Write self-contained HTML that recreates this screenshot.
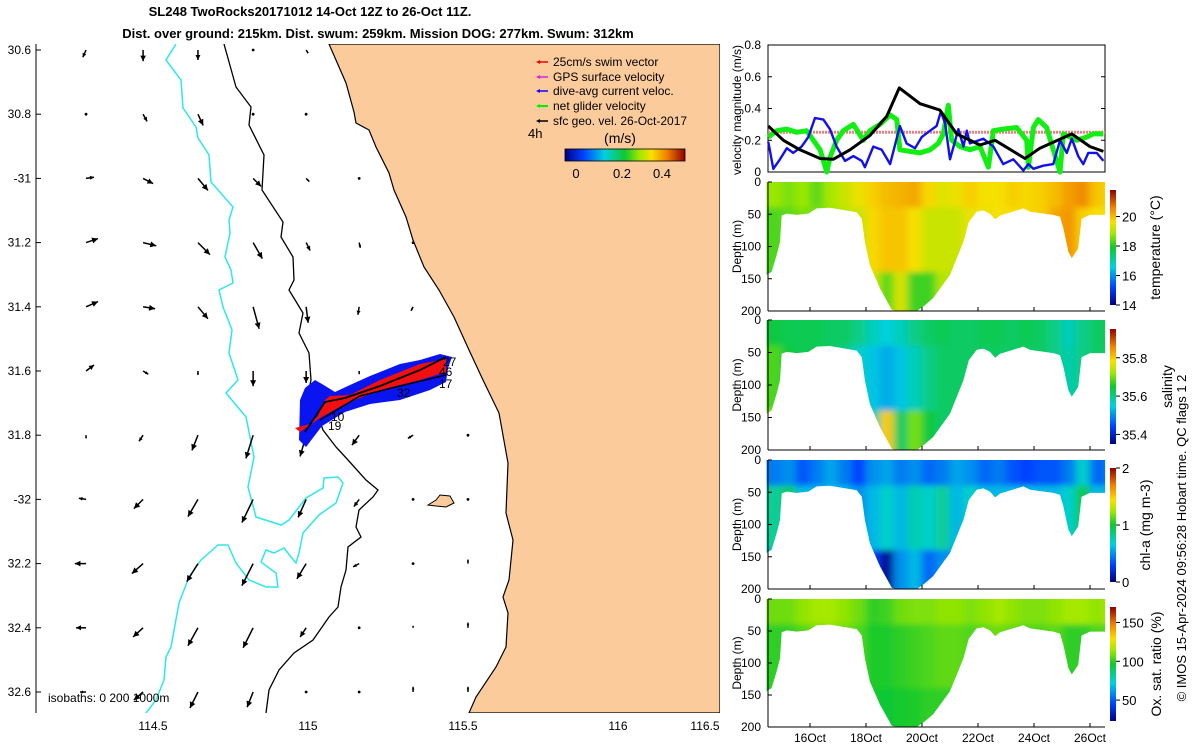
<!DOCTYPE html>
<html><head><meta charset="utf-8">
<style>
html,body{margin:0;padding:0;background:#fff;}
svg{display:block;font-family:"Liberation Sans","DejaVu Sans",sans-serif;}
</style></head>
<body>
<svg id="fig" width="1200" height="750" viewBox="0 0 1200 750" xmlns="http://www.w3.org/2000/svg">
<defs>
<linearGradient id="jetH" x1="0" y1="0" x2="1" y2="0">
<stop offset="0" stop-color="#000080"/><stop offset="0.15" stop-color="#0040ff"/><stop offset="0.33" stop-color="#00d0e0"/><stop offset="0.5" stop-color="#10c830"/><stop offset="0.62" stop-color="#a0e800"/><stop offset="0.72" stop-color="#f8e000"/><stop offset="0.85" stop-color="#f08000"/><stop offset="1" stop-color="#900000"/>
</linearGradient>
<linearGradient id="jetV" x1="0" y1="1" x2="0" y2="0">
<stop offset="0" stop-color="#000080"/><stop offset="0.15" stop-color="#0040ff"/><stop offset="0.33" stop-color="#00d0e0"/><stop offset="0.5" stop-color="#10c830"/><stop offset="0.62" stop-color="#a0e800"/><stop offset="0.72" stop-color="#f8e000"/><stop offset="0.85" stop-color="#f08000"/><stop offset="1" stop-color="#900000"/>
</linearGradient>
<clipPath id="mapClip"><rect x="36" y="44" width="684" height="669"/></clipPath>
<filter id="soft" x="-5%" y="-5%" width="110%" height="110%"><feGaussianBlur stdDeviation="4 3"/></filter>
</defs>

<text x="310" y="16" text-anchor="middle" font-size="13" font-weight="bold">SL248 TwoRocks20171012 14-Oct 12Z to 26-Oct 11Z.</text>
<text x="378" y="38" text-anchor="middle" font-size="13" font-weight="bold">Dist. over ground: 215km. Dist. swum: 259km. Mission DOG: 277km. Swum: 312km</text>

<g id="map" clip-path="url(#mapClip)">
<rect x="36" y="44" width="684" height="669" fill="#fff"/>
<polygon fill="#fbcb9b" stroke="#000" stroke-width="1.2" points="329,44 346,83 354,112 356,123 369,130 376,147 389,173 394,190 406,217 413,240 424,267 439,290 454,317 469,350 483,380 499,413 508,463 506,513 513,540 509,580 503,597 508,613 506,647 496,667 476,697 469,713 720,713 720,44"/>
<polygon fill="#fbcb9b" stroke="#000" stroke-width="1" points="428,505 436,500 440,495 450,496 454,503 446,507 436,506"/>
<polyline fill="none" stroke="#000" stroke-width="1.3" points="224,44 236,87 251,107 249,125 264,155 262,190 283,222 281,237 293,257 294,280 289,290 303,313 299,333 309,353 311,380 309,390 323,430 336,447 348,460 366,480 378,490 373,497 359,510 356,527 361,537 348,547 346,570 341,587 338,607 329,617 313,640 294,653 279,670 269,690 266,713"/>
<polyline fill="none" stroke="#2ee6ee" stroke-width="1.5" points="176,44 166,60 181,80 183,108 196,127 198,138 209,155 211,182 233,207 229,220 230,233 225,257 231,270 233,283 219,290 223,307 232,330 229,353 238,380 226,393 246,417 254,457 248,487 256,517 281,525 289,520 306,498 323,488 324,478 338,477 343,483 336,503 319,515 303,533 299,553 296,563 291,557 284,548 274,553 266,550 261,562 276,573 278,587 266,587 249,580 236,563 228,545 218,545 201,560 189,577 179,603 171,647 166,657 164,680 156,700 143,717"/>
<g id="arrows"></g>
<g>
<polygon fill="#0a14f0" points="300,400 305,388 315,380 322,384 335,392 350,385 370,376 400,364 420,360 440,354 452,357 448,368 446,382 430,390 400,400 370,404 345,412 322,426 306,447 299,440"/>
<polygon fill="#f01010" points="295,428 310,424 318,416 325,400 330,396 350,395 380,380 405,370 420,364 446,359 446,372 420,380 380,390 345,404 320,418 300,432"/>
<polyline fill="none" stroke="#000" stroke-width="1.8" points="305,432 325,402 345,398 380,386 420,370 446,357"/>
<polyline fill="none" stroke="#000" stroke-width="1.5" points="446,375 400,386 360,396 320,420"/>
</g>
<g font-size="12">
<text x="443" y="366">27</text><text x="439" y="376">46</text><text x="439" y="388">17</text>
<text x="397" y="397">32</text><text x="331" y="421">10</text><text x="328" y="430">19</text>
</g>
<text x="48" y="702" font-size="12">isobaths: 0   200  1000m</text>
</g>
<line x1="36" y1="44" x2="36" y2="713" stroke="#000"/>
<g id="mapTicks" font-size="12"></g>

<g font-size="12">
<g><line x1="538" y1="62" x2="548" y2="62" stroke="#e00" stroke-width="1.5"/><polygon points="536,62 540,60 540,64" fill="#e00"/><text x="553" y="66">25cm/s swim vector</text></g>
<g><line x1="538" y1="77" x2="548" y2="77" stroke="#e020e0" stroke-width="1.5"/><polygon points="536,77 540,75 540,79" fill="#e020e0"/><text x="553" y="81">GPS surface velocity</text></g>
<g><line x1="538" y1="91" x2="548" y2="91" stroke="#10f" stroke-width="1.5"/><polygon points="536,91 540,89 540,93" fill="#10f"/><text x="553" y="95">dive-avg current veloc.</text></g>
<g><line x1="538" y1="106" x2="548" y2="106" stroke="#0e0" stroke-width="2"/><polygon points="536,106 540,104 540,108" fill="#0e0"/><text x="553" y="110">net glider velocity</text></g>
<g><line x1="538" y1="121" x2="548" y2="121" stroke="#000" stroke-width="1.5"/><polygon points="536,121 540,119 540,123" fill="#000"/><text x="553" y="125">sfc geo. vel. 26-Oct-2017</text></g>
<text x="528" y="138" font-size="13">4h</text>
<text x="620" y="143" font-size="14" text-anchor="middle">(m/s)</text>
<rect x="565" y="149" width="120" height="12" fill="url(#jetH)" stroke="#000" stroke-width="0.8"/>
<text x="576" y="178" font-size="13" text-anchor="middle">0</text>
<text x="622" y="178" font-size="13" text-anchor="middle">0.2</text>
<text x="662" y="178" font-size="13" text-anchor="middle">0.4</text>
</g>

<g id="vel"></g>
<g id="heat"></g>
<g id="dates" font-size="12"></g>
<text transform="translate(1186,538) rotate(-90)" text-anchor="middle" font-size="13">© IMOS 15-Apr-2024 09:56:28 Hobart time. QC flags 1  2</text>
</svg>
<script>
// ---------- map data ----------
const lonGrid=[114.284,114.468,114.645,114.823,114.994,115.165,115.339,115.516];
const latGrid=[30.6,30.8,31.0,31.2,31.4,31.6,31.8,32.0,32.2,32.4,32.6];
const geoU=[
[-8,0,0,0,5,null,null,null],
[0,10,13,3,0,null,null,null],
[20,25,25,20,8,0,null,null],
[30,33,30,23,10,3,0,null],
[30,30,25,15,5,-3,-5,null],
[20,13,0,0,0,0,null,null],
[0,-10,-15,-18,-15,-18,-13,0],
[-18,-23,-25,-28,-20,-13,0,0],
[-28,-28,-28,-28,-23,-15,3,0],
[-25,-25,-25,-25,-15,0,0,0],
[-15,-23,-20,-15,0,0,0,0]];
const geoV=[
[-18,-28,-25,-3,-8,null,null,null],
[-3,-18,-28,-3,-3,null,null,null],
[3,-13,-30,-20,-8,-3,null,null],
[10,-8,-30,-40,-20,-13,-3,null],
[13,-5,-30,-55,-40,-20,-10,null],
[15,-8,-10,-38,-30,-8,null,null],
[-8,-15,-38,-58,-53,-25,-8,-3],
[3,-23,-43,-58,-45,-18,-3,-3],
[0,-25,-45,-55,-38,-8,3,10],
[0,-23,-45,-50,-23,-3,5,13],
[0,-20,-40,-38,-3,-3,13,13]];
const lonTicks=[114.5,115,115.5,116,116.5];
const lonTickLabels=["114.5","115","115.5","116","116.5"];
const latTicks=[30.6,30.8,31,31.2,31.4,31.6,31.8,32,32.2,32.4,32.6];
const latTickLabels=["30.6","30.8","-31","31.2","31.4","31.6","31.8","-32","32.2","32.4","32.6"];

// ---------- velocity panel data ----------
const velTicks=[0,0.2,0.4,0.6,0.8];
const velTickLabels=["0","0.2","0.4","0.6","0.8"];
const geoDays=[14.51,15.05,15.64,16.36,16.83,17.43,18.14,18.74,19.19,19.93,20.64,21.24,22.07,22.61,23.68,24.21,25.35,26.0,26.48];
const geoSpeed=[0.29,0.2,0.14,0.085,0.08,0.14,0.23,0.35,0.53,0.43,0.39,0.24,0.17,0.2,0.085,0.15,0.24,0.16,0.13];
const diveDays=[14.51,14.69,14.93,15.17,15.40,15.70,15.94,16.18,16.48,16.71,16.95,17.25,17.55,17.85,17.96,18.26,18.56,18.86,19.21,19.45,19.75,19.99,20.29,20.52,20.67,20.82,21.0,21.30,21.48,21.60,21.71,22.19,22.55,22.90,23.26,23.62,23.80,23.98,24.33,24.69,24.93,25.17,25.35,25.58,25.76,25.94,26.24,26.48];
const diveSpeed=[0.19,0.02,0.08,0.15,0.12,0.16,0.22,0.34,0.33,0.27,0.16,0.07,0.1,0.07,0.03,0.16,0.14,0.05,0.29,0.18,0.15,0.22,0.26,0.29,0.38,0.31,0.08,0.27,0.16,0.26,0.18,0.21,0.16,0.05,0.08,0.01,0.05,0.02,0.04,0.05,0.2,0.12,0.21,0.1,0.05,0.12,0.12,0.07];
const netDays=[14.51,14.81,15.17,15.52,15.88,16.12,16.36,16.60,16.71,16.95,17.19,17.55,17.90,18.14,18.50,18.86,19.10,19.21,19.57,19.93,20.29,20.58,20.76,20.94,21.06,21.36,21.71,22.07,22.37,22.55,22.90,23.38,23.74,23.80,23.98,24.15,24.45,24.93,25.05,25.52,25.88,26.12,26.48];
const netSpeed=[0.22,0.26,0.27,0.25,0.26,0.2,0.14,0.0,0.09,0.2,0.26,0.3,0.2,0.26,0.3,0.36,0.33,0.14,0.13,0.12,0.14,0.18,0.24,0.42,0.2,0.16,0.14,0.16,0.03,0.26,0.27,0.28,0.2,0.03,0.28,0.33,0.28,0.0,0.24,0.2,0.22,0.24,0.24];
const swimDays=[14.5,26.54];
const swimSpeed=[0.25,0.25];

// ---------- section data ----------
const dateTicks=[16,18,20,22,24,26];
const dateTickLabels=["16Oct","18Oct","20Oct","22Oct","24Oct","26Oct"];
const depthTicks=[0,50,100,150,200];
const profDays=[14.45,14.63,14.81,14.93,14.99,15.17,15.52,15.94,16.24,16.71,17.67,17.85,17.96,18.14,18.50,18.92,19.10,19.81,20.05,20.40,21.0,21.48,21.67,21.95,22.19,22.43,22.61,22.79,23.62,23.86,24.69,24.93,25.05,25.23,25.35,25.58,25.70,26.0,26.54];
const profDepth=[144,139,113,93,52,49,51,49,41,40,47,57,93,129,165,198,200,200,193,180,144,93,62,46,44,49,58,52,41,46,51,54,72,108,118,103,57,51,51];
const colDays=[14.5,15,15.5,16,16.5,17,17.5,18,18.5,19,19.5,20,20.5,21,21.5,22,22.5,23,23.5,24,24.5,25,25.5,26,26.5];
const layerTop=[0,40,140];
const layerBot=[40,140,200];
const tempTop=[18.8,18.6,18.8,18.4,18.9,19.2,19.5,19.8,20.0,20.1,20.2,19.7,19.4,19.5,19.8,19.6,19.6,19.8,19.7,19.8,20.0,20.3,20.5,19.9,19.7];
const tempMid=[18.3,18.4,18.6,18.6,18.8,19.0,19.2,19.7,19.9,19.9,19.6,19.2,19.2,19.2,19.5,19.5,19.6,19.6,19.7,19.8,20.2,20.4,19.8,19.6,19.6];
const tempDeep=[17.8,17.9,18.0,18.0,18.0,18.5,19.0,19.3,18.4,19.3,18.2,18.2,19.0,19.0,19.0,19.0,19.0,19.0,19.0,19.0,19.0,19.0,19.0,19.0,19.0];
const salTop=[35.64,35.63,35.63,35.63,35.62,35.62,35.60,35.57,35.55,35.57,35.60,35.62,35.63,35.62,35.62,35.63,35.63,35.62,35.63,35.62,35.60,35.57,35.60,35.62,35.63];
const salMid=[35.68,35.64,35.63,35.63,35.62,35.60,35.56,35.54,35.52,35.54,35.57,35.60,35.62,35.62,35.62,35.62,35.62,35.62,35.62,35.62,35.60,35.58,35.60,35.62,35.62];
const salDeep=[35.72,35.70,35.66,35.64,35.63,35.62,35.60,35.58,35.80,35.62,35.70,35.64,35.62,35.62,35.62,35.62,35.62,35.62,35.62,35.62,35.62,35.62,35.62,35.62,35.62];
const chlTop=[0.45,0.5,0.35,0.45,0.55,0.45,0.3,0.5,0.55,0.45,0.5,0.4,0.45,0.55,0.5,0.4,0.45,0.35,0.3,0.35,0.35,0.45,0.7,0.4,0.45];
const chlMid=[0.8,0.9,0.6,0.6,0.6,0.6,0.5,0.6,0.7,0.6,0.75,0.7,0.8,0.6,0.7,0.6,0.6,0.6,0.6,0.6,0.6,0.7,0.95,0.6,0.6];
const chlDeep=[0.5,0.5,0.5,0.5,0.5,0.5,0.4,0.3,0.05,0.5,0.6,0.4,0.5,0.5,0.5,0.5,0.5,0.5,0.5,0.5,0.5,0.5,0.5,0.5,0.5];
const oxTop=[108,108,112,115,115,112,108,100,102,108,110,110,112,112,110,112,115,112,110,110,112,115,115,112,115];
const oxMid=[100,100,105,108,110,108,104,98,98,100,102,104,106,106,104,106,108,106,104,104,106,100,100,104,104];
const oxDeep=[98,98,100,100,100,100,100,97,96,97,98,100,100,100,100,100,100,100,100,100,100,100,100,100,100];

const NS="http://www.w3.org/2000/svg";
function mk(tag,attrs,parent){const e=document.createElementNS(NS,tag);for(const k in attrs)e.setAttribute(k,attrs[k]);parent.appendChild(e);return e;}
function txt(parent,x,y,s,anchor,size,extra){const t=mk('text',{x:x,y:y,'text-anchor':anchor||'start','font-size':size||12},parent);if(extra)t.setAttribute('transform',extra);t.textContent=s;return t;}

// map axes
const lonX=l=>153+(l-114.5)*310;
const latY=l=>50+(l-30.6)*321;
const arrows=document.getElementById('arrows');
const VS=0.4;
for(let r=0;r<latGrid.length;r++){for(let c=0;c<lonGrid.length;c++){
  const u=geoU[r][c],v=geoV[r][c];if(u===null||v===null)continue;
  const x0=lonX(lonGrid[c]),y0=latY(latGrid[r]);
  const x1=x0+u*VS,y1=y0-v*VS;
  const g=mk('g',{},arrows);
  
  
  const len=Math.hypot(x1-x0,y1-y0);
  if(len<2){mk('circle',{cx:x0,cy:y0,r:1.4,fill:'#000'},g);continue;}
  mk('line',{x1:x0,y1:y0,x2:x1,y2:y1,stroke:'#000','stroke-width':1.5},g);
  const ux=(x1-x0)/len,uy=(y1-y0)/len,h=Math.min(6,len*0.5);
  mk('polygon',{points:`${x1},${y1} ${x1-ux*h-uy*h*0.5},${y1-uy*h+ux*h*0.5} ${x1-ux*h+uy*h*0.5},${y1-uy*h-ux*h*0.5}`,fill:'#000'},g);
}}
const mt=document.getElementById('mapTicks');
lonTicks.forEach((l,i)=>{const x=lonX(l);
  const t=txt(mt,Math.min(x,705),730,lonTickLabels[i],'middle',12);
  
  });
latTicks.forEach((l,i)=>{const y=latY(l);
  mk('line',{x1:36,y1:y,x2:41,y2:y,stroke:'#000'},mt);
  const t=txt(mt,31,y+4,latTickLabels[i],'end',12);
  
  });

// right panels
const X0=768,X1=1105;
const dayX=d=>810+(d-16)*28;
const vel=document.getElementById('vel');
const vY=v=>172-v/0.8*127;
mk('rect',{x:X0,y:45,width:X1-X0,height:127,fill:'#fff',stroke:'#000','stroke-width':1},vel);
velTicks.forEach((v,i)=>{const y=vY(v);
  mk('line',{x1:X0,y1:y,x2:X0+4,y2:y,stroke:'#000'},vel);mk('line',{x1:X1,y1:y,x2:X1-4,y2:y,stroke:'#000'},vel);
  txt(vel,761,y+4,velTickLabels[i],'end',12);});
txt(vel,0,0,'velocity magnitude (m/s)','middle',12,'translate(741,110) rotate(-90)');
function series(days,vals,attrs,name){const p=mk('polyline',Object.assign({fill:'none',points:days.map((d,i)=>dayX(d).toFixed(1)+','+vY(vals[i]).toFixed(1)).join(' ')},attrs),vel);
  
  }
series(swimDays,swimSpeed,{stroke:'#f08080','stroke-width':3,'stroke-dasharray':'2 1'},'swim-speed-line');
series(netDays,netSpeed,{stroke:'#11ee11','stroke-width':5,'stroke-linejoin':'round'},'net-glider-velocity-line');
series(diveDays,diveSpeed,{stroke:'#1010ee','stroke-width':2.4,'stroke-linejoin':'round'},'dive-avg-current-line');
series(geoDays,geoSpeed,{stroke:'#000','stroke-width':3,'stroke-linejoin':'round'},'geo-velocity-line');

// colormap
const stops=[[0,[0,0,128]],[0.15,[0,64,255]],[0.33,[0,208,224]],[0.5,[16,200,48]],[0.62,[160,232,0]],[0.72,[248,224,0]],[0.85,[240,128,0]],[1,[144,0,0]]];
function cmap(t){t=Math.max(0,Math.min(1,t));for(let i=1;i<stops.length;i++){if(t<=stops[i][0]){const a=stops[i-1],b=stops[i],f=(t-a[0])/(b[0]-a[0]);const c=a[1].map((v,k)=>Math.round(v+(b[1][k]-v)*f));return `rgb(${c[0]},${c[1]},${c[2]})`;}}return 'rgb(144,0,0)';}

const panels=[
 {name:'temperature',y0:182,y1:311,min:14,max:21.8,layers:[tempTop,tempMid,tempDeep],cb:[190,305],ticks:[14,16,18,20],labels:['14','16','18','20'],label:'temperature (°C)',lx:1160},
 {name:'salinity',y0:320,y1:450,min:35.35,max:35.95,layers:[salTop,salMid,salDeep],cb:[329,444],ticks:[35.4,35.6,35.8],labels:['35.4','35.6','35.8'],label:'salinity',lx:1172},
 {name:'chl-a',y0:460,y1:589,min:0,max:2,layers:[chlTop,chlMid,chlDeep],cb:[468,582],ticks:[0,1,2],labels:['0','1','2'],label:'chl-a (mg m-3)',lx:1150},
 {name:'oxygen',y0:599,y1:727,min:23,max:170,layers:[oxTop,oxMid,oxDeep],cb:[607,721],ticks:[50,100,150],labels:['50','100','150'],label:'Ox. sat. ratio (%)',lx:1161}];
const heat=document.getElementById('heat');
panels.forEach((p,pi)=>{
  const g=mk('g',{},heat);
  
  
  const dY=d=>p.y0+d/200*(p.y1-p.y0);
  const cid='clip'+pi;
  const cp=mk('clipPath',{id:cid},g);
  let pts=`${dayX(profDays[0])},${dY(0)} ${dayX(profDays[profDays.length-1])},${dY(0)} `;
  for(let i=profDays.length-1;i>=0;i--)pts+=`${dayX(profDays[i]).toFixed(1)},${dY(profDepth[i]).toFixed(1)} `;
  mk('polygon',{points:pts},cp);
  const cg=mk('g',{'clip-path':`url(#${cid})`},g);
  const bg=mk('g',{filter:'url(#soft)'},cg);
  colDays.forEach((d,ci)=>{p.layers.forEach((L,li)=>{
    const r=mk('rect',{x:dayX(d)-(ci===0?10:0.3),y:dY(layerTop[li])-(li===0?10:0.3),width:14.6+(ci===0||ci===colDays.length-1?10:0),height:dY(layerBot[li])-dY(layerTop[li])+0.6+(li===0||li===2?10:0),fill:cmap((L[ci]-p.min)/(p.max-p.min))},bg);
    
    
  });});
  mk('line',{x1:X0,y1:p.y0,x2:X0,y2:p.y1,stroke:'#000'},g);
  mk('line',{x1:X0,y1:p.y1,x2:X1,y2:p.y1,stroke:'#000'},g);
  depthTicks.forEach(t=>{const y=dY(t);mk('line',{x1:X0,y1:y,x2:X0+4,y2:y,stroke:'#000'},g);txt(g,761,y+4,String(t),'end',12);});
  txt(g,0,0,'Depth (m)','middle',12,`translate(741,${(p.y0+p.y1)/2}) rotate(-90)`);
  dateTicks.forEach(d=>mk('line',{x1:dayX(d),y1:p.y1,x2:dayX(d),y2:p.y1-4,stroke:'#000'},g));
  const cb=mk('rect',{x:1110,y:p.cb[0],width:6,height:p.cb[1]-p.cb[0],fill:'url(#jetV)'},g);
  
  
  p.ticks.forEach((t,i)=>{const y=p.cb[1]-(t-p.min)/(p.max-p.min)*(p.cb[1]-p.cb[0]);
    mk('line',{x1:1116,y1:y,x2:1120,y2:y,stroke:'#000'},g);txt(g,1122,y+5,p.labels[i],'start',13);});
  txt(g,0,0,p.label,'middle',14,`translate(${p.lx},${(p.cb[0]+p.cb[1])/2}) rotate(-90)`);
});
const dg=document.getElementById('dates');
dateTicks.forEach((d,i)=>{const t=txt(dg,dayX(d),742,dateTickLabels[i],'middle',12);
  
  });
</script>
</body></html>
